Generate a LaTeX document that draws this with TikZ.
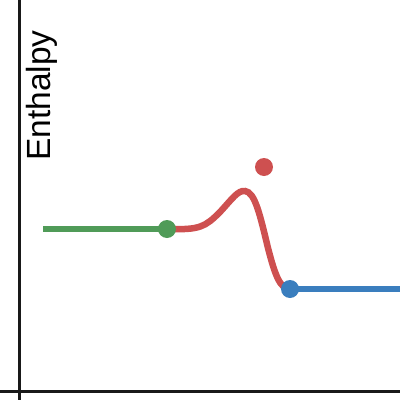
\documentclass[tikz,border=0pt]{standalone}
\usepackage{fontspec}
\setmainfont{Liberation Sans}
\definecolor{cgreen}{RGB}{80,155,88}
\definecolor{cred}{RGB}{206,80,80}
\definecolor{cblue}{RGB}{58,126,190}
\definecolor{axisc}{RGB}{25,25,25}
\tikzset{axisline/.style={axisc,line width=3pt},
  curveline/.style={line width=6.5pt},
  dotmark/.style={circle,inner sep=0pt,minimum size=18pt}}
\begin{document}
\begin{tikzpicture}[x=1pt,y=-1pt]
\useasboundingbox (0,0) rectangle (400,400);
\coordinate (top) at (19.5,0);
\coordinate (bot) at (19.5,400);
\coordinate (left) at (0,391);
\coordinate (right) at (400,391);
\draw[axisline] (top) -- (bot);
\draw[axisline] (left) -- (right);
\node[rotate=90,font=\fontsize{33.5}{36}\selectfont,anchor=center,inner sep=0pt] (ylab) at (42,95.5) {Enthalpy};
\coordinate (gs) at (43,229);
\coordinate (g) at (167,229);
\coordinate (b) at (290,289);
\coordinate (be) at (400,289);
\draw[curveline,cgreen] (gs) -- (g);
\draw[curveline,cblue] (b) -- (be);
\draw[curveline,cred,line cap=round] (g) .. controls (200,230) and (205,227) .. (220,212)
  .. controls (232,199) and (238,190) .. (245,191)
  .. controls (255,192) and (260,215) .. (268,248)
  .. controls (275,275) and (280,289) .. (b);
\node[dotmark,fill=cgreen] (gd) at (g) {};
\node[dotmark,fill=cblue] (bd) at (b) {};
\node[dotmark,fill=cred] (rd) at (264,167) {};
\end{tikzpicture}
\end{document}
